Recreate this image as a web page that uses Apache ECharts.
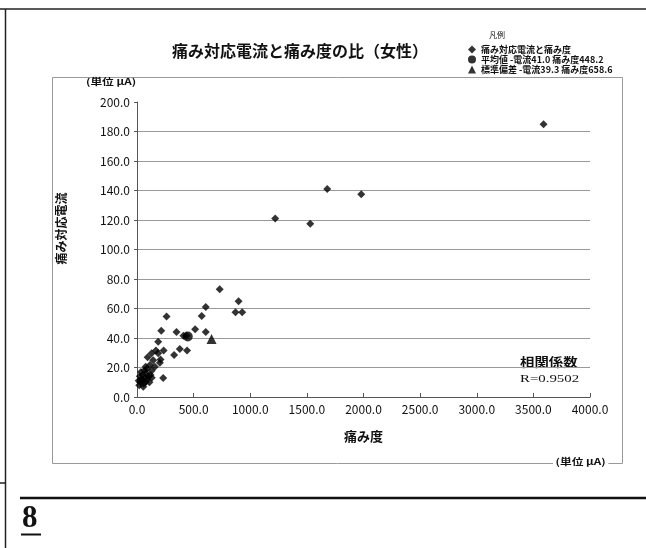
<!DOCTYPE html>
<html>
<head>
<meta charset="utf-8">
<script src="https://cdn.jsdelivr.net/npm/echarts@6/dist/echarts.min.js"></script>
<style>html,body{margin:0;padding:0;background:#fff;}#c{width:646px;height:548px;}</style>
</head>
<body>
<div id="c"></div>
<script>
// ---- data ----
const titleText = '痛み対応電流と痛み度の比（女性）';
const seriesNames = ['痛み対応電流と痛み度', '平均値 -電流41.0 痛み度448.2', '標準偏差 -電流39.3 痛み度658.6'];
const painX = [3590,1680,1980,1220,1530,730,897,870,929,607,571,513,607,261,214,349,410,437,378,442,328,231,187,167,235,129,187,94,208,143,202,114,158,76,129,20,30,40,25,50,60,45,70,80,35,55,90,100,65,110,120,15,75,85,130];
const currentY = [185,141,137.5,121,117.5,73,65,57.5,57.5,61,55,46,44,54.5,45,44,41.5,41.5,32.5,31.5,28.5,12.8,37.5,31.5,31.5,29.6,29.6,27,25.5,25,23.3,21.7,20.5,20.5,17.8,8,10,12,14,15,9,11,13,16,17,7,12,14,18,10,15,11,10,19,13];
const meanPoint = [448.2, 41.0];
const sdPoint = [658.6, 39.3];
const xTicks = {min: 0, max: 4000, interval: 500};
const yTicks = {min: 0, max: 200, interval: 20};
const xName = '痛み度';
const yName = '痛み対応電流';
const unitText = '(単位 μA)';
const corrLabel = '相関係数';
const corrValue = 'R=0.9502';
const pageNo = '8';

const scatterData = painX.map((x, i) => [x, currentY[i]]);
const jp = '"Noto Sans CJK JP", sans-serif';

const chart = echarts.init(document.getElementById('c'));
chart.setOption({
  backgroundColor: '#fff',
  animation: false,
  textStyle: {fontFamily: jp, color: '#111'},
  title: {
    text: titleText, left: 295, top: 38, textAlign: 'center',
    textStyle: {fontSize: 16, fontWeight: 'bold', color: '#111', fontFamily: jp}
  },
  legend: {
    orient: 'vertical', left: 463, top: 40, itemGap: 1,
    itemWidth: 8, itemHeight: 8,
    textStyle: {fontSize: 9, color: '#111', fontFamily: jp, fontWeight: 'bold'},
    data: [
      {name: seriesNames[0], icon: 'diamond', itemStyle: {color: '#000'}},
      {name: seriesNames[1], icon: 'circle'},
      {name: seriesNames[2], icon: 'triangle'}
    ]
  },
  grid: {left: 137, right: 56, top: 102, bottom: 151},
  xAxis: {
    type: 'value', min: xTicks.min, max: xTicks.max, interval: xTicks.interval,
    name: xName, nameLocation: 'middle', nameGap: 33,
    nameTextStyle: {fontSize: 13, fontWeight: 'bold', color: '#111', fontFamily: jp},
    axisLine: {show: true, lineStyle: {color: '#555', width: 1}},
    axisTick: {show: true, inside: true, length: 4, lineStyle: {color: '#555'}},
    axisLabel: {fontSize: 12, color: '#111', margin: 6, formatter: v => v.toFixed(1)},
    splitLine: {show: false}
  },
  yAxis: {
    type: 'value', min: yTicks.min, max: yTicks.max, interval: yTicks.interval,
    name: yName, nameLocation: 'middle', nameGap: 70,
    nameTextStyle: {fontSize: 12, fontWeight: 'bold', color: '#111', fontFamily: jp, padding: [0, 0, 0, 42]},
    axisLine: {show: true, lineStyle: {color: '#555', width: 1}},
    axisTick: {show: true, length: 3, lineStyle: {color: '#555'}},
    axisLabel: {fontSize: 12, color: '#111', margin: 7, formatter: v => v.toFixed(1)},
    splitLine: {show: true, showMaxLine: false, lineStyle: {color: '#999', width: 1}}
  },
  series: [
    {name: seriesNames[0], type: 'scatter', symbol: 'diamond', symbolSize: 8,
     itemStyle: {color: '#000'}, data: scatterData, z: 3},
    {name: seriesNames[1], type: 'scatter', symbol: 'circle', symbolSize: 10,
     itemStyle: {color: '#000'}, data: [meanPoint], z: 4},
    {name: seriesNames[2], type: 'scatter', symbol: 'triangle', symbolSize: 10,
     itemStyle: {color: '#000'}, data: [sdPoint], z: 4}
  ],
  graphic: [
    {type: 'line', shape: {x1: 0, y1: 9, x2: 646, y2: 9}, style: {stroke: '#222', lineWidth: 1.5}, silent: true},
    {type: 'line', shape: {x1: 5.5, y1: 9, x2: 5.5, y2: 548}, style: {stroke: '#222', lineWidth: 1.5}, silent: true},
    {type: 'line', shape: {x1: 0, y1: 483, x2: 6, y2: 483}, style: {stroke: '#222', lineWidth: 1.5}, silent: true},
    {type: 'rect', shape: {x: 52.5, y: 77.5, width: 570, height: 386}, style: {fill: 'none', stroke: '#999', lineWidth: 1}, z: -1, silent: true},
    {type: 'line', shape: {x1: 20, y1: 498, x2: 646, y2: 498}, style: {stroke: '#111', lineWidth: 2.5}, silent: true},
    {type: 'text', left: 22, top: 503, style: {text: pageNo, fontSize: 31, fontWeight: 'bold', fontFamily: '"Liberation Serif", serif', fill: '#111'}},
    {type: 'line', shape: {x1: 21, y1: 534.5, x2: 41, y2: 534.5}, style: {stroke: '#111', lineWidth: 2}, silent: true},
    {type: 'text', left: 489, top: 31, style: {text: '凡例', fontSize: 8, fontFamily: jp, fill: '#111'}},
    {type: 'text', x: 86, y: 77, scaleX: 1.3, style: {text: unitText, fontSize: 9, fontWeight: 'bold', fontFamily: jp, fill: '#111'}},
    {type: 'text', x: 553, y: 457, scaleX: 1.3, style: {text: unitText, fontSize: 9, fontWeight: 'bold', fontFamily: jp, fill: '#111', backgroundColor: '#fff', padding: [0, 2]}},
    {type: 'text', x: 520, y: 356, scaleX: 1.2, style: {text: corrLabel, fontSize: 12, fontWeight: 'bold', fontFamily: jp, fill: '#111'}},
    {type: 'text', x: 520, y: 374, scaleX: 1.35, style: {text: corrValue, fontSize: 11, fontFamily: '"Liberation Serif", serif', fill: '#111'}}
  ]
});
</script>
</body>
</html>
